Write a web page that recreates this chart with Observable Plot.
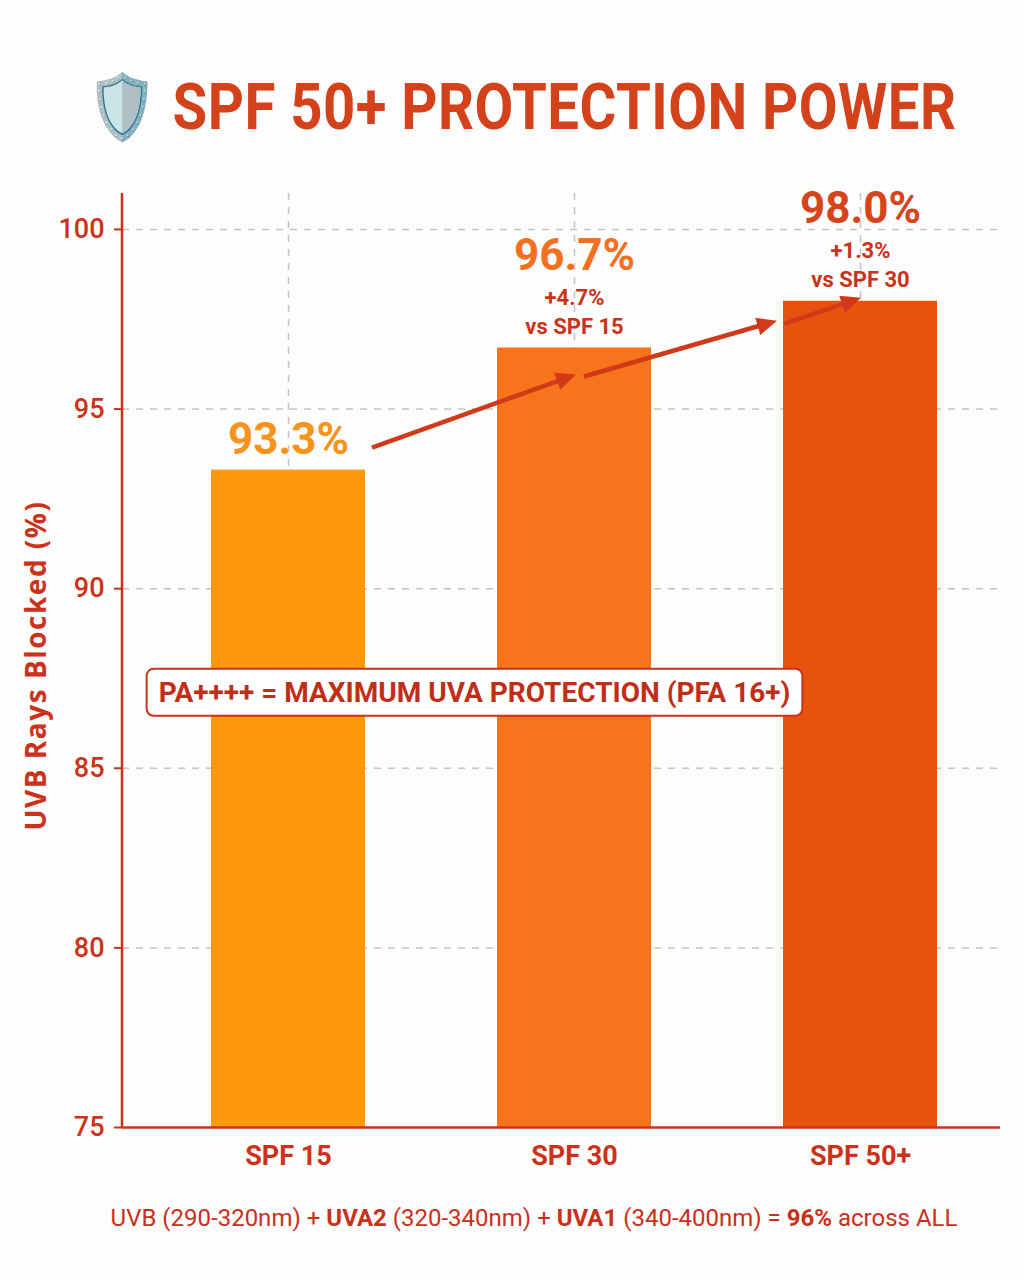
<!DOCTYPE html>
<html>
<head>
<meta charset="utf-8">
<script src="https://cdn.jsdelivr.net/npm/d3@7"></script>
<script src="https://cdn.jsdelivr.net/npm/@observablehq/plot@0.6"></script>
<style>
  html, body { margin: 0; padding: 0; background: #fdfdfd; }
  body { width: 1024px; height: 1280px; overflow: hidden; font-family: Roboto, "Noto Sans", sans-serif; }
  #title {
    height: 88px; padding-top: 72px; box-sizing: content-box;
    text-align: center; padding-left: 20px; white-space: nowrap;
  }
  #title span {
    display: inline-block; transform: scaleX(0.88); transform-origin: center;
    font-family: Roboto, sans-serif; font-weight: 700; font-size: 64px; line-height: 72px;
    color: #D3421B; letter-spacing: 0.5px;
  }
  #chart { height: 1030px; }
  #footer {
    margin-top: 14px; text-align: center; white-space: nowrap; padding-left: 44px;
  }
  #footer span.wrap {
    display: inline-block; font-size: 24px; color: #C9301A;
    font-family: Roboto, sans-serif;
  }
  #footer b { font-weight: 700; }
</style>
</head>
<body>
<div id="title"><span></span></div>
<div id="chart"></div>
<div id="footer"><span class="wrap"></span></div>
<script>
// ---------- data ----------
const titleText = "🛡️ SPF 50+ PROTECTION POWER";
const categories = ["SPF 15", "SPF 30", "SPF 50+"];
const blocked = [93.3, 96.7, 98.0];
const gainVsPrev = [null, "+4.7%", "+1.3%"];
const comparedWith = [null, "SPF 15", "SPF 30"];
const yTicks = [75, 80, 85, 90, 95, 100];
const yDomain = [75, 101];
const yLabel = "UVB Rays Blocked (%)";
const noteText = "PA++++ = MAXIMUM UVA PROTECTION (PFA 16+)";
const noteValue = 87.1;
const footerParts = [
  ["UVB (290-320nm) + ", false], ["UVA2", true], [" (320-340nm) + ", false],
  ["UVA1", true], [" (340-400nm) = ", false], ["96%", true], [" across ALL", false]
];

// ---------- styles ----------
const barColors = ["#FE980C", "#F7731C", "#E8520F"];
const labelColors = ["#F7921A", "#F4701F", "#D6441C"];
const red = "#CC321A";

const table = categories.map((c, i) => ({
  cat: c, value: blocked[i], gain: gainVsPrev[i], vs: comparedWith[i],
  fill: barColors[i], labelFill: labelColors[i]
}));

document.querySelector("#title span").textContent = titleText;
const footer = document.querySelector("#footer span.wrap");
for (const [t, bold] of footerParts) {
  const el = document.createElement(bold ? "b" : "span");
  el.textContent = t;
  footer.appendChild(el);
}

// trend arrows drawn through the plot's own scales
function trendArrows(index, scales) {
  const sx = scales.x, sy = scales.y;
  const bw = typeof sx.bandwidth === "function" ? sx.bandwidth() : scales.scales.x.bandwidth;
  const left = c => sx(c), center = c => sx(c) + bw / 2;
  const top = v => sy(v);
  const [c1, c2, c3] = categories, [v1, v2, v3] = blocked;
  const segs = [
    [center(c1) + 84, top(v1) - 22, center(c2) + 2, top(v2) + 27],
    [center(c2) + 10, top(v2) + 29, left(c3) - 6, top(v3) + 20],
    [left(c3) + 1, top(v3) + 23, center(c3) + 1, top(v3) - 3]
  ];
  const g = d3.create("svg:g").attr("fill", "#D03A18").attr("stroke", "#D03A18");
  for (const [xa, ya, xb, yb] of segs) {
    const ang = Math.atan2(yb - ya, xb - xa);
    const L = 20, W = 9;
    const bx = xb - L * Math.cos(ang), by = yb - L * Math.sin(ang);
    g.append("line").attr("x1", xa).attr("y1", ya).attr("x2", bx + 2 * Math.cos(ang)).attr("y2", by + 2 * Math.sin(ang))
      .attr("stroke-width", 4.5);
    const px = -Math.sin(ang) * W, py = Math.cos(ang) * W;
    g.append("polygon").attr("stroke", "none")
      .attr("points", `${xb},${yb} ${bx + px},${by + py} ${bx - px},${by - py}`);
  }
  return g.node();
}

const withSub = table.filter(d => d.gain);
const chart = Plot.plot({
  width: 1024, height: 1030,
  marginTop: 33, marginBottom: 63, marginLeft: 122, marginRight: 24,
  style: { background: "transparent", fontFamily: "Roboto, sans-serif", overflow: "visible" },
  x: { domain: categories, paddingInner: 0.46, paddingOuter: 0.26, align: 0.59, label: null },
  y: { domain: yDomain, ticks: yTicks, label: null },
  marks: [
    Plot.gridY(yTicks.filter(t => t > yDomain[0]), { stroke: "#c4c4c4", strokeOpacity: 1, strokeWidth: 1.5, strokeDasharray: "7,7" }),
    Plot.gridX(categories, { stroke: "#c4c4c4", strokeOpacity: 1, strokeWidth: 1.5, strokeDasharray: "7,7" }),
    Plot.barY(table, { x: "cat", y1: yDomain[0], y2: "value", fill: d => d.fill }),
    Plot.ruleY([yDomain[0]], { stroke: red, strokeWidth: 2.5 }),
    Plot.axisY({ ticks: yTicks, tickSize: 8, tickPadding: 10, stroke: red, strokeWidth: 2, fill: red,
      fontSize: 27, fontWeight: 500, fontFamily: "Roboto, sans-serif" }),
    Plot.axisX({ tickSize: 0, tickPadding: 18, fill: red, fontSize: 27, fontWeight: 700, fontFamily: "Roboto, sans-serif" }),
    Plot.text([yLabel], { frameAnchor: "left", textAnchor: "middle", rotate: -90, dx: -85, dy: 5, text: d => d,
      fontSize: 28, fontWeight: 700, fill: red, fontFamily: "'Open Sans', sans-serif", className: "ylabel" }),
    // sub labels
    Plot.text(withSub, { x: "cat", y: "value", text: d => `${d.gain}\nvs ${d.vs}`, lineAnchor: "bottom",
      dy: -14, lineHeight: 1.32, fontSize: 22, fontWeight: 700, fill: red, fontFamily: "Roboto, sans-serif" }),
    // value labels
    Plot.text(withSub, { x: "cat", y: "value", text: d => d.value.toFixed(1) + "%", lineAnchor: "bottom",
      dy: -78, fontSize: 44, fontWeight: 700, fill: d => d.labelFill, fontFamily: "Roboto, sans-serif" }),
    Plot.text(table.filter(d => !d.gain), { x: "cat", y: "value", text: d => d.value.toFixed(1) + "%", lineAnchor: "bottom",
      dy: -16, fontSize: 44, fontWeight: 700, fill: d => d.labelFill, fontFamily: "Roboto, sans-serif" }),
    trendArrows,
    // annotation
    Plot.text([noteText], { x: () => categories[1], y: () => noteValue, text: d => d, dx: -100,
      fontSize: 28, fontWeight: 700, fill: "#C02E18", fontFamily: "Roboto, sans-serif", className: "note" })
  ]
});
document.getElementById("chart").appendChild(chart);

const svg = d3.select(chart);
svg.selectAll("g.ylabel text").attr("letter-spacing", "1.5px");
// y axis line
const ys = chart.scale("y");
svg.append("line")
  .attr("x1", 122).attr("x2", 122)
  .attr("y1", ys.apply(yDomain[1])).attr("y2", ys.apply(yDomain[0]))
  .attr("stroke", red).attr("stroke-width", 2.5);
// box behind annotation
const noteNode = svg.select("g.note text").node();
if (noteNode) {
  const bb = noteNode.getBBox();
  d3.select(noteNode.parentNode).insert("rect", "text")
    .attr("transform", noteNode.getAttribute("transform"))
    .attr("x", bb.x - 12).attr("y", bb.y - 7).attr("width", bb.width + 24).attr("height", bb.height + 14)
    .attr("rx", 7).attr("fill", "#ffffff").attr("stroke", "#C8321A").attr("stroke-width", 2);
}
</script>
</body>
</html>
